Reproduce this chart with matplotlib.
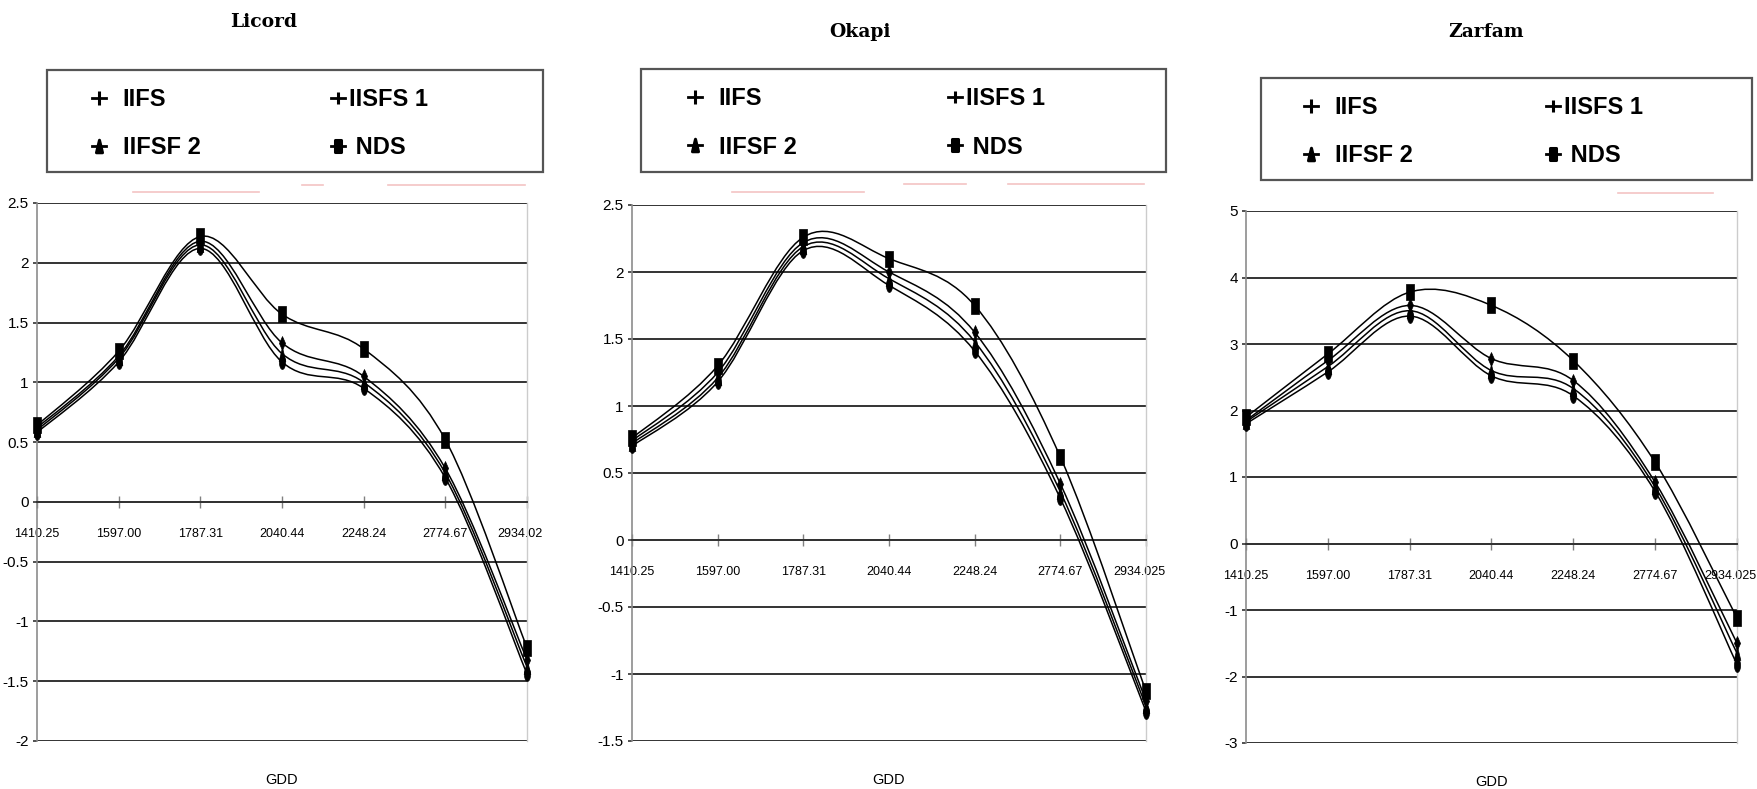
import numpy as np
import matplotlib
matplotlib.use('Agg')
import matplotlib.pyplot as plt
from matplotlib.path import Path
from matplotlib.patches import PathPatch, Rectangle
from matplotlib.lines import Line2D
from matplotlib.ticker import MultipleLocator, FuncFormatter
from matplotlib.transforms import ScaledTranslation

plt.rcParams['axes.unicode_minus'] = False
plt.rcParams['font.family'] = ['Liberation Sans Narrow', 'Liberation Sans', 'DejaVu Sans']

# ---------------- data ----------------
series_names = ['IIFS', 'IISFS 1', 'IIFSF 2', 'NDS']
legend_labels = ['IIFS', 'IISFS 1', 'IIFSF 2', ' NDS']

gdd_licord = ['1410.25', '1597.00', '1787.31', '2040.44', '2248.24', '2774.67', '2934.02']
gdd_okapi = ['1410.25', '1597.00', '1787.31', '2040.44', '2248.24', '2774.67', '2934.025']
gdd_zarfam = ['1410.25', '1597.00', '1787.31', '2040.44', '2248.24', '2774.67', '2934.025']

licord_iifs = [0.62, 1.22, 2.18, 1.33, 1.05, 0.28, -1.32]
licord_iisfs1 = [0.60, 1.20, 2.15, 1.24, 1.00, 0.24, -1.38]
licord_iifsf2 = [0.58, 1.17, 2.12, 1.17, 0.95, 0.20, -1.44]
licord_nds = [0.64, 1.26, 2.22, 1.57, 1.28, 0.52, -1.22]

okapi_iifs = [0.74, 1.25, 2.22, 2.00, 1.55, 0.42, -1.20]
okapi_iisfs1 = [0.72, 1.21, 2.19, 1.95, 1.48, 0.36, -1.24]
okapi_iifsf2 = [0.70, 1.18, 2.16, 1.90, 1.41, 0.31, -1.28]
okapi_nds = [0.76, 1.30, 2.26, 2.10, 1.75, 0.62, -1.13]

zarfam_iifs = [1.85, 2.75, 3.58, 2.78, 2.45, 0.92, -1.50]
zarfam_iisfs1 = [1.83, 2.66, 3.50, 2.60, 2.33, 0.85, -1.65]
zarfam_iifsf2 = [1.80, 2.58, 3.42, 2.52, 2.22, 0.78, -1.82]
zarfam_nds = [1.90, 2.85, 3.78, 3.58, 2.75, 1.22, -1.12]

titles = ['Licord', 'Okapi', 'Zarfam']
x_title = 'GDD'

# ---------------- layout (pixels) ----------------
W, H = 1758, 789
fig = plt.figure(figsize=(W / 100, H / 100), dpi=100)
fig.patch.set_facecolor('white')


def fx(px):
    return px / W


def fy(py):
    return 1 - py / H


panels = [
    dict(title='Licord', cats=gdd_licord,
         data=[licord_iifs, licord_iisfs1, licord_iifsf2, licord_nds],
         rect=(37, 203, 527, 741), ylim=(-2, 2.5), step=0.5,
         tpos=(264, 22), box=(47, 70, 543, 172), cols=(99, 338), row1=98,
         pink=[(192, 133, 259), (185, 302, 323), (185, 388, 525)]),
    dict(title='Okapi', cats=gdd_okapi,
         data=[okapi_iifs, okapi_iisfs1, okapi_iifsf2, okapi_nds],
         rect=(632, 205, 1146, 741), ylim=(-1.5, 2.5), step=0.5,
         tpos=(860, 32), box=(641, 69, 1166, 172), cols=(695, 955), row1=97,
         pink=[(192, 732, 864), (184, 904, 966), (184, 1008, 1144)]),
    dict(title='Zarfam', cats=gdd_zarfam,
         data=[zarfam_iifs, zarfam_iisfs1, zarfam_iifsf2, zarfam_nds],
         rect=(1246, 211, 1737, 743), ylim=(-3, 5), step=1,
         tpos=(1486, 32), box=(1261, 78, 1752, 180), cols=(1311, 1553), row1=106,
         pink=[(193, 1618, 1713)]),
]

# marker shapes (tall, narrow)
t = np.linspace(0, 2 * np.pi, 40)
m_ellipse = Path(np.column_stack([0.22 * np.cos(t), 0.5 * np.sin(t)]), closed=True)
m_diamond = Path([(0, -0.5), (0.22, 0), (0, 0.5), (-0.22, 0), (0, -0.5)], closed=True)
m_tri = Path([(0, 0.5), (0.24, -0.5), (-0.24, -0.5), (0, 0.5)], closed=True)
m_rect = Path([(-0.24, -0.5), (0.24, -0.5), (0.24, 0.5), (-0.24, 0.5), (-0.24, -0.5)], closed=True)
markers = [m_diamond, m_tri, m_ellipse, m_rect]
msizes = [10, 10, 10, 12]
legend_markers = ['|', '|', m_tri, m_rect]
legend_msizes = [10, 9, 9, 8]


def smooth_path(xs, ys):
    """Excel-like smoothed line: cubic Bezier segments through the points."""
    P = np.column_stack([xs, ys]).astype(float)
    n = len(P)
    verts = [P[0]]
    codes = [Path.MOVETO]
    for i in range(n - 1):
        p0 = P[i - 1] if i > 0 else P[i]
        p1 = P[i]
        p2 = P[i + 1]
        p3 = P[i + 2] if i + 2 < n else P[i + 1]
        c1 = p1 + (p2 - p0) / 6.0
        c2 = p2 - (p3 - p1) / 6.0
        verts += [c1, c2, p2]
        codes += [Path.CURVE4] * 3
    return Path(verts, codes)


grid_c = '#333333'
fmt = FuncFormatter(lambda v, p: '%g' % (round(v, 3) + 0.0))
LEG_FS = 17
leg_px = LEG_FS * 100 / 72.0
HANDLE_LEN = 0.6

for pan in panels:
    l, t_, r, b = pan['rect']
    ax = fig.add_axes([fx(l), fy(b), (r - l) / W, (b - t_) / H])
    ax.set_xlim(0, len(pan['cats']) - 1)
    ax.set_ylim(*pan['ylim'])
    ax.yaxis.set_major_locator(MultipleLocator(pan['step']))
    ax.yaxis.set_major_formatter(fmt)
    ax.grid(axis='y', color=grid_c, lw=1.4)
    ax.set_axisbelow(True)
    ax.spines['top'].set_visible(False)
    ax.spines['left'].set_color('#8c8c8c')
    ax.spines['left'].set_linewidth(1.2)
    ax.spines['right'].set_color('#cccccc')
    ax.spines['right'].set_linewidth(1.0)
    ax.spines['bottom'].set_position(('data', 0))
    ax.spines['bottom'].set_color(grid_c)
    ax.spines['bottom'].set_linewidth(1.4)

    xs = np.arange(len(pan['cats']))
    ax.set_xticks(xs)
    ax.set_xticklabels(pan['cats'])
    ax.tick_params(axis='x', direction='inout', length=9, width=1, color='#808080',
                   pad=14.5, labelsize=9)
    ax.tick_params(axis='y', direction='out', length=3, width=1.2, color=grid_c,
                   pad=3, labelsize=11)
    # keep the right-most category label inside the picture
    last = ax.get_xticklabels()[-1]
    last.set_transform(last.get_transform() + ScaledTranslation(-7 / 100, 0, fig.dpi_scale_trans))

    for k, ys in enumerate(pan['data']):
        pp = PathPatch(smooth_path(xs, ys), facecolor='none', edgecolor='black',
                       lw=1.1, zorder=3, clip_on=False)
        ax.add_patch(pp)
        ax.plot(xs, ys, linestyle='none', marker=markers[k], markersize=msizes[k],
                color='black', markeredgewidth=0.5, zorder=4, clip_on=False)

    ax.annotate(x_title, xy=(0.5, 0), xycoords='axes fraction', xytext=(0, -28),
                textcoords='offset points', ha='center', va='center', fontsize=10.5)

    # title
    fig.text(fx(pan['tpos'][0]), fy(pan['tpos'][1]), pan['title'], ha='center', va='center',
             fontsize=13.5, fontweight='bold', family=['DejaVu Serif'])

    # legend frame
    bx0, by0, bx1, by1 = pan['box']
    fig.patches.append(Rectangle((fx(bx0), fy(by1)), (bx1 - bx0) / W, (by1 - by0) / H,
                                 transform=fig.transFigure, fill=False,
                                 edgecolor='#555555', lw=1.6))
    # legend (two columns placed separately)
    handles = [Line2D([], [], color='black', lw=2, marker=legend_markers[k],
                      markersize=legend_msizes[k], markeredgewidth=2.2)
               for k in range(4)]
    for c, (idxs, tpad) in enumerate([([0, 2], 0.7), ([1, 3], 0.15)]):
        left = pan['cols'][c] - HANDLE_LEN * leg_px / 2
        fig.legend([handles[i] for i in idxs], [legend_labels[i] for i in idxs],
                   loc='upper left',
                   bbox_to_anchor=(fx(left), fy(pan['row1'] - 10)),
                   bbox_transform=fig.transFigure, frameon=False, borderpad=0,
                   borderaxespad=0, handlelength=HANDLE_LEN, handletextpad=tpad,
                   labelspacing=1.08, prop=dict(size=LEG_FS, weight='bold'))

    # faint pink scan artefacts below the legend
    for (py, px0, px1) in pan['pink']:
        fig.add_artist(Line2D([fx(px0), fx(px1)], [fy(py), fy(py)],
                              transform=fig.transFigure, color='#f3c4c4', lw=1.2))

fig.savefig('out.png', dpi=100, facecolor='white')
